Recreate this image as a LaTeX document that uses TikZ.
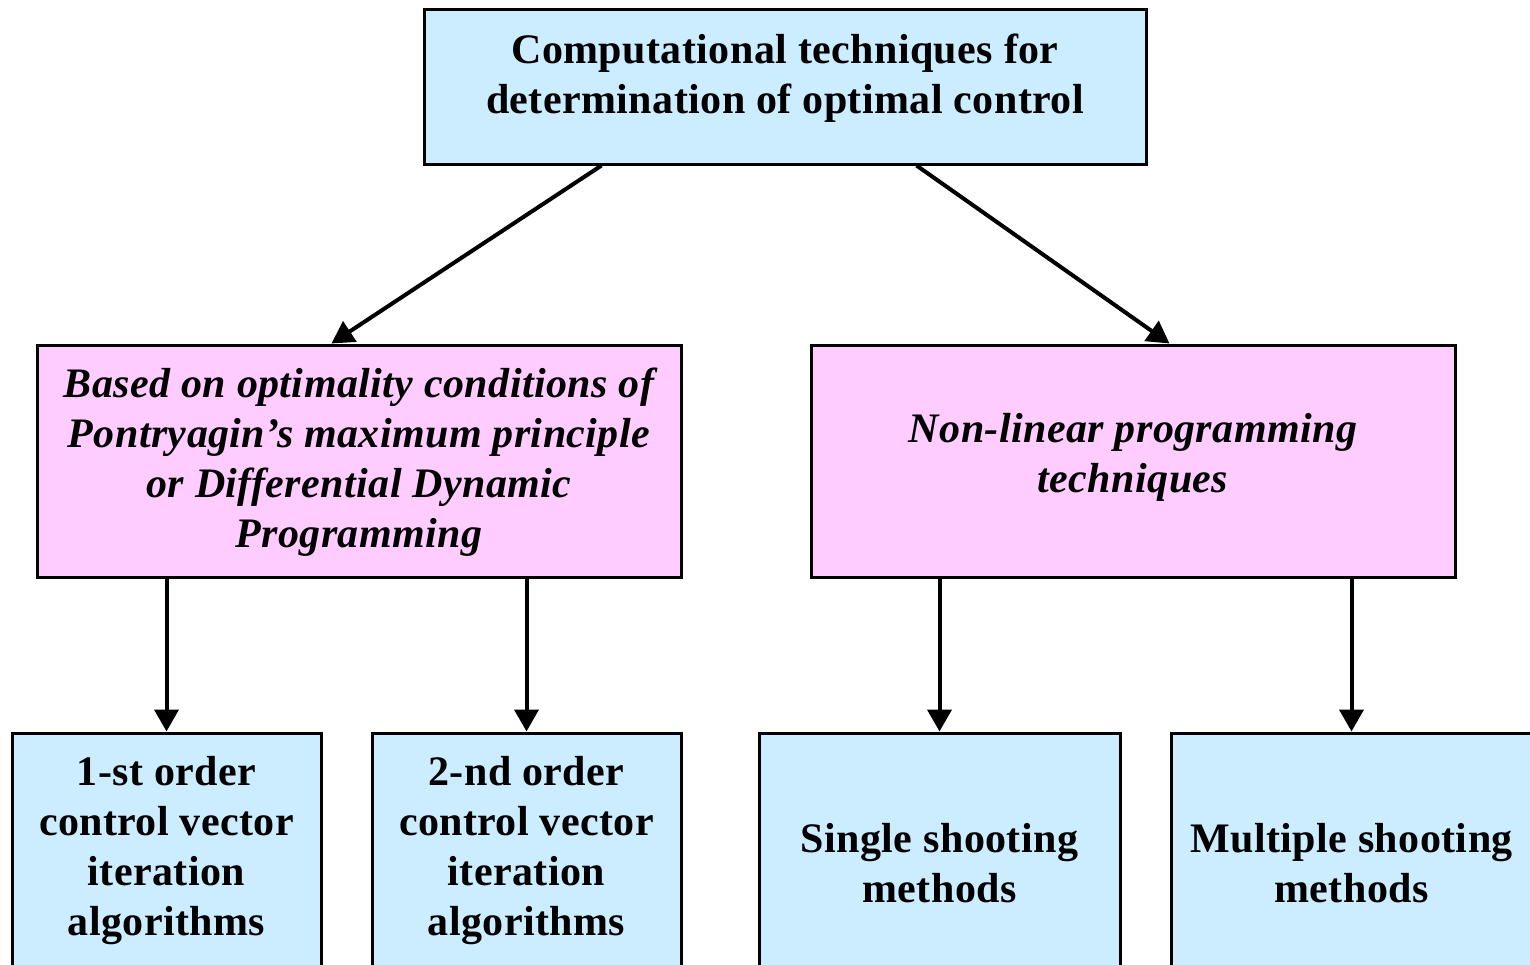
\documentclass[tikz,border=0pt]{standalone}
\usepackage{fontspec}
\setmainfont{Liberation Serif}[LetterSpace=1.0]
\usetikzlibrary{arrows.meta}
\definecolor{boxblue}{HTML}{CCECFF}
\definecolor{boxpink}{HTML}{FFCCFF}
\tikzset{
  box/.style={draw=black, line width=3pt, inner sep=0pt},
  bluebox/.style={box, fill=boxblue},
  pinkbox/.style={box, fill=boxpink},
  uptext/.style={inner sep=0pt, align=center,
    font=\fontsize{42}{50}\selectfont\bfseries},
  ittext/.style={uptext, font=\fontsize{42}{50}\selectfont\bfseries\itshape},
  link/.style={line width=4pt, -{Triangle[length=22pt,width=24pt]}}
}
\begin{document}
\begin{tikzpicture}[x=1pt, y=-1pt]
\useasboundingbox (0,0) rectangle (1530,964);
\clip (0,0) rectangle (1530,964);
% root
\node[bluebox, minimum width=722pt, minimum height=155pt] (root) at (785,86.5) {};
\node[uptext] (rootT) at ([yshift=8.5pt]root.center)
  {Computational techniques for\\determination of optimal control};
% two families of methods
\node[pinkbox, minimum width=644pt, minimum height=232pt] (pmp) at (359,461) {};
\node[ittext] (pmpT) at ([yshift=-1pt]pmp.center)
  {Based on optimality conditions of\\Pontryagin’s maximum principle\\or Differential Dynamic\\Programming};
\node[pinkbox, minimum width=644pt, minimum height=232pt] (nlp) at (1133,461) {};
\node[ittext] (nlpT) at ([yshift=4pt]nlp.center)
  {Non-linear programming\\techniques};
% leaves
\node[bluebox, minimum width=309pt, minimum height=236pt] (first) at (166.5,851) {};
\node[uptext] (firstT) at (first.center)
  {1-st order\\control vector\\iteration\\algorithms};
\node[bluebox, minimum width=309pt, minimum height=236pt] (second) at (526.5,851) {};
\node[uptext] (secondT) at (second.center)
  {2-nd order\\control vector\\iteration\\algorithms};
\node[bluebox, minimum width=361pt, minimum height=236pt] (single) at (939.5,851) {};
\node[uptext] (singleT) at ([yshift=-12pt]single.center)
  {Single shooting\\methods};
\node[bluebox, minimum width=361pt, minimum height=236pt] (multi) at (1351.5,851) {};
\node[uptext] (multiT) at ([yshift=-12pt]multi.center)
  {Multiple shooting\\methods};
% connectors
\draw[link] ([xshift=179pt]root.south west) -- ([xshift=296pt]pmp.north west);
\draw[link] ([xshift=-231pt]root.south east) -- ([xshift=-287pt]nlp.north east);
\draw[link] (pmp.south -| first.north) -- (first.north);
\draw[link] (pmp.south -| second.north) -- (second.north);
\draw[link] (nlp.south -| single.north) -- (single.north);
\draw[link] (nlp.south -| multi.north) -- (multi.north);
\end{tikzpicture}
\end{document}
